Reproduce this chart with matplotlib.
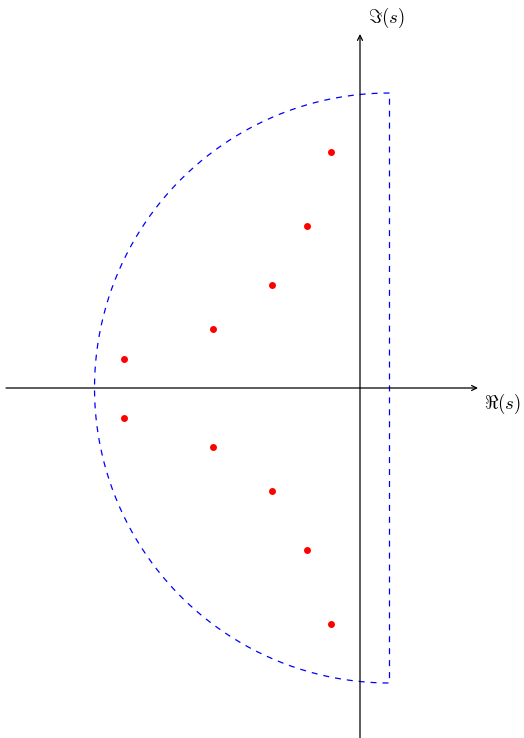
import numpy as np
import matplotlib
matplotlib.use("Agg")
import matplotlib.pyplot as plt

# poles (upper half, the lower half are the conjugates)
pole_re = [-0.1, -0.18, -0.3, -0.5, -0.8]
pole_im = [0.8, 0.55, 0.35, 0.2, 0.1]

# contour: half circle of radius R around (eps, 0), closed by the line Re = eps
R = 1.0
eps = 0.1

# axis extent
x_min, x_max = -1.2, 0.4
y_min, y_max = -1.2, 1.2

plt.rcParams['mathtext.fontset'] = 'cm'
plt.rcParams['lines.scale_dashes'] = False


def plot_contour():
    fig = plt.figure(figsize=(5.24, 7.38), dpi=100)
    ax = fig.add_axes([0, 0, 1, 1])
    ax.set_xlim(-360 / 295, 164 / 295)
    ax.set_ylim(-350 / 295, 388 / 295)
    ax.set_aspect('equal')
    ax.axis('off')

    # axes with arrows
    arrow = dict(arrowstyle='->', lw=0.9, color='black',
                 shrinkA=0, shrinkB=0, mutation_scale=9)
    ax.annotate('', xy=(x_max, 0), xytext=(x_min, 0), arrowprops=arrow)
    ax.annotate('', xy=(0, y_max), xytext=(0, y_min), arrowprops=arrow)
    ax.text(x_max + 0.022, -0.055, r'$\Re(s)$', ha='left', va='center', fontsize=13.5)
    ax.text(0.028, y_max + 0.055, r'$\Im(s)$', ha='left', va='center', fontsize=13.5)

    # the contour
    t = np.linspace(np.pi / 2, 3 * np.pi / 2, 400)
    cx = np.concatenate([eps + R * np.cos(t), [eps, eps]])
    cy = np.concatenate([R * np.sin(t), [-R, R]])
    ax.plot(cx, cy, color='#0000ff', lw=0.9, ls=(0, (4.3, 4.3)))

    # poles
    re = pole_re + pole_re
    im = pole_im + [-v for v in pole_im]
    ax.plot(re, im, 'o', color='red', markersize=5, markeredgewidth=0)

    fig.savefig('out.png', dpi=100)


def main():
    plot_contour()

if __name__ == "__main__":
    main()
